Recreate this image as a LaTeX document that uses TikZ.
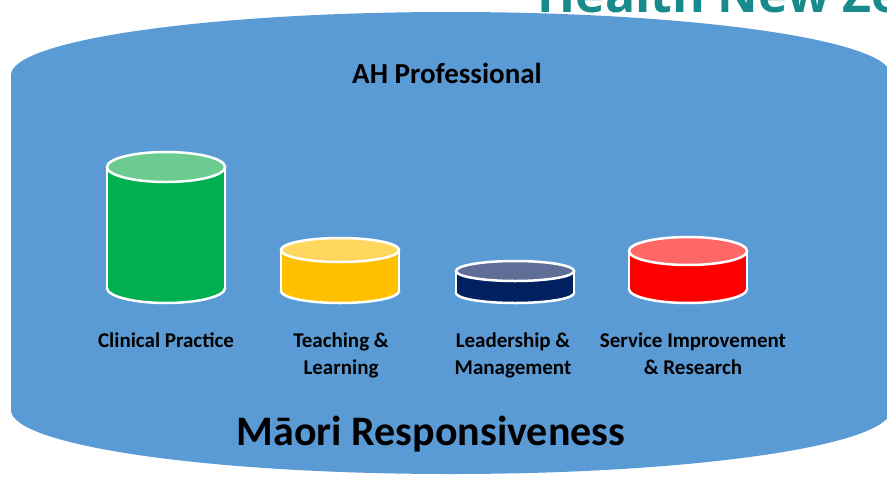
\documentclass[tikz,border=0pt]{standalone}
\usepackage{fontspec}
\setmainfont{Carlito}
\newfontfamily\logofont{Open Sans}
\usepackage{tikz}
\usetikzlibrary{shapes.geometric}
\usepackage{xcolor}
\definecolor{panelblue}{HTML}{5B9BD5}
\definecolor{logoteal}{HTML}{178A8C}
\definecolor{drumgreen}{HTML}{00B050}
\definecolor{lidgreen}{HTML}{6BCB91}
\definecolor{drumyellow}{HTML}{FFC000}
\definecolor{lidyellow}{HTML}{FFD75E}
\definecolor{drumnavy}{HTML}{002060}
\definecolor{lidnavy}{HTML}{5E6E96}
\definecolor{drumred}{HTML}{FF0000}
\definecolor{lidred}{HTML}{FF6666}

\begin{document}
\begin{tikzpicture}[x=1pt,y=-1pt,
    lbl/.style={anchor=base, inner sep=0, align=center, font=\bfseries\fontsize{21}{27}\selectfont},
    rim/.style={draw=white, line width=2.5pt}]
    \useasboundingbox (0,0) rectangle (887,485);
    \clip (0,0) rectangle (887,485);
    % logo text, cut by the page edge
    \node[anchor=base west, inner sep=0, text=logoteal, font=\logofont\bfseries\fontsize{50}{60}\selectfont] (logo) at (537,12) {Health New Zealand};
    % big blue panel
    \fill[panelblue] (11,75) -- (11,410) arc[start angle=180, end angle=0, x radius=440, y radius=64]
        -- (891,75) arc[start angle=0, end angle=-180, x radius=440, y radius=63] -- cycle;
    \node[anchor=base, inner sep=0, font=\bfseries\fontsize{29}{35}\selectfont] (ahprof) at (447,83) {AH Professional};
    % drums: centre x / lid centre y / ry / body / lid
    \foreach \cx/\yt/\ry/\body/\lid in {166/167/15/drumgreen/lidgreen, 340/250/12/drumyellow/lidyellow,
        515/271/10/drumnavy/lidnavy, 688/251/14/drumred/lidred}{
        \filldraw[rim, fill=\body] (\cx,303-\ry) ellipse[x radius=59, y radius=\ry];
        \fill[\body] (\cx-59,\yt) rectangle (\cx+59,303-\ry);
        \draw[rim] (\cx-59,\yt) -- (\cx-59,303-\ry) (\cx+59,\yt) -- (\cx+59,303-\ry);
        \filldraw[rim, fill=\lid] (\cx,\yt) ellipse[x radius=59, y radius=\ry];
    }
    % labels (two-line ones sit on their last line)
    \node[lbl] (clinical) at (166,347) {Clinical Practice};
    \node[lbl] (teaching) at (341,374) {Teaching \&\\Learning};
    \node[lbl] (leadership) at (513,374) {Leadership \&\\Management};
    \node[lbl] (service) at (693,374) {Service Improvement\\\& Research};
    \node[anchor=base, inner sep=0, font=\bfseries\fontsize{42}{50}\selectfont] (maori) at (431,445) {Māori Responsiveness};
\end{tikzpicture}
\end{document}
